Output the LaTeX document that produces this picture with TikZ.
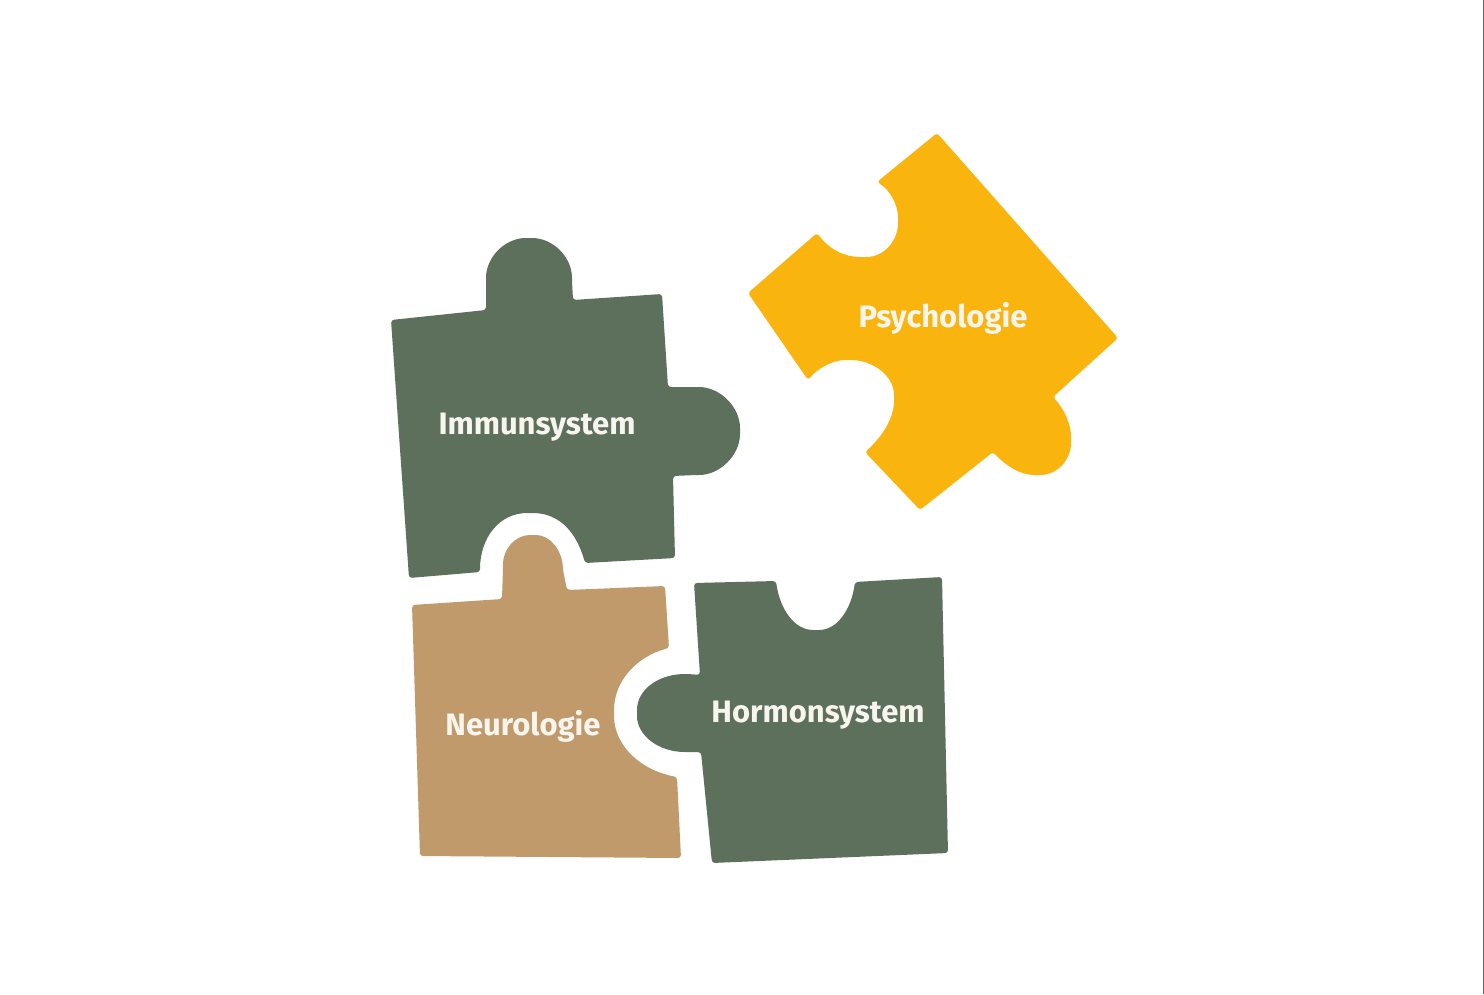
\documentclass[tikz,border=0pt]{standalone}
\usepackage{fontspec}
\setmainfont{Fira Sans}
\definecolor{pgreen}{RGB}{92,112,92}
\definecolor{ptan}{RGB}{193,154,107}
\definecolor{pyellow}{RGB}{249,181,14}
\definecolor{ptext}{RGB}{248,245,238}
\begin{document}
\begin{tikzpicture}[x=1pt,y=-1pt,
  piece/.style={rounded corners=3pt},
  lbl/.style={text=ptext,font=\bfseries\fontsize{31}{34}\selectfont,anchor=base,inner sep=0pt}]
\useasboundingbox (0,0) rectangle (1484,994);
\fill[white] (0,0) rectangle (1484,994);
\draw[gray!80!black,line width=1.2pt] (1483.4,0) -- (1483.4,994);
% Immunsystem
\fill[pgreen,piece] (391,320) -- (486,310) -- (486,281)
  .. controls (486,257) and (505,238) .. (529,238)
  .. controls (553,238) and (572,257) .. (572,281) -- (573,300)
  -- (662,294) -- (668,387) -- (696,387)
  .. controls (720,387) and (740,407) .. (740,431)
  .. controls (740,455) and (720,475) .. (696,475) -- (673,476)
  -- (675,558) -- (585,563)
  .. controls (575,527) and (555,513) .. (530,513)
  .. controls (500,513) and (480,537) .. (480,572)
  -- (409,578) -- cycle;
% Neurologie
\fill[ptan,piece] (412,605) -- (502,599) -- (503,568)
  .. controls (503,548) and (516,535) .. (533,535)
  .. controls (550,535) and (562,550) .. (563,570) -- (567,590)
  -- (665,586) -- (669,648)
  .. controls (638,656) and (614,680) .. (614,713)
  .. controls (614,745) and (640,770) .. (677,777)
  -- (681,858) -- (420,856) -- cycle;
% Hormonsystem
\fill[pgreen,piece] (694,583) -- (776,581)
  .. controls (780,610) and (795,630) .. (816,630)
  .. controls (837,630) and (851,610) .. (855,582)
  -- (942,577) -- (948,853) -- (712,863) -- (701,752) -- (688,752)
  .. controls (658,752) and (637,735) .. (637,713)
  .. controls (637,690) and (658,674) .. (688,674) -- (700,675) -- cycle;
% Psychologie
\fill[pyellow,piece] (748,293) -- (817,233)
  .. controls (830,250) and (845,257) .. (863,257)
  .. controls (885,257) and (898,240) .. (898,220)
  .. controls (898,205) and (890,190) .. (877,182)
  -- (937,133) -- (1118,338) -- (1053,397)
  .. controls (1065,410) and (1071,425) .. (1071,440)
  .. controls (1071,460) and (1057,475) .. (1037,475)
  .. controls (1020,475) and (1005,465) .. (993,452)
  -- (920,510) -- (865,452)
  .. controls (882,437) and (894,418) .. (894,398)
  .. controls (894,375) and (872,360) .. (848,360)
  .. controls (833,360) and (818,368) .. (808,380) -- cycle;
\node[lbl] (imm) at (537,434) {Immunsystem};
\node[lbl] (psy) at (943,327) {Psychologie};
\node[lbl] (neu) at (523,735) {Neurologie};
\node[lbl] (hor) at (818,722) {Hormonsystem};
\end{tikzpicture}
\end{document}
